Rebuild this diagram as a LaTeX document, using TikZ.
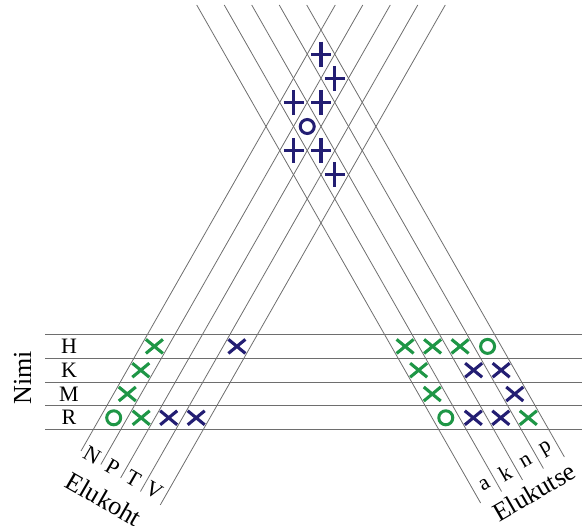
\documentclass[tikz,border=0pt]{standalone}
\usepackage{fontspec}
\setmainfont{Liberation Serif}
\definecolor{mgreen}{RGB}{30,150,70}
\definecolor{mblue}{RGB}{35,30,115}
\definecolor{gridgray}{RGB}{110,110,110}
\begin{document}
\begin{tikzpicture}[x=1pt,y=-1pt,
  gridline/.style={draw=gridgray, line width=0.8pt},
  hdr/.style={font=\fontsize{26}{30}\selectfont, inner sep=0pt},
  lbl/.style={font=\fontsize{22}{26}\selectfont, inner sep=0pt},
  xmark/.pic={\draw[line width=3.1pt] (-8.5,-7)--(8.5,7) (-8.5,7)--(8.5,-7);},
  pmark/.pic={\draw[line width=3.1pt] (0,-12.5)--(0,12.5) (-10,0)--(10,0);},
  omark/.pic={\draw[line width=3pt] (0,0) circle[radius=7];},
]
\useasboundingbox (0,0) rectangle (582,526);
% horizontal band
\foreach \i in {0,...,4}{
  \pgfmathsetmacro\yy{334.5+23.8*\i}
  \draw[gridline] (45,\yy) -- (582,\yy);
}
% left band (/)
\foreach \j in {0,...,4}{
  \pgfmathsetmacro\yb{451+13.5*\j}
  \pgfmathsetmacro\xb{93+27.5*\j+(430-\yb)*0.57}
  \pgfmathsetmacro\xt{93+27.5*\j+425*0.57}
  \draw[gridline] (\xb,\yb) -- (\xt,5);
}
% right band (\)
\foreach \j in {0,...,4}{
  \pgfmathsetmacro\yb{503-11.5*\j}
  \pgfmathsetmacro\xb{439+27.5*\j+(\yb-430)*0.57}
  \pgfmathsetmacro\xt{439+27.5*\j-425*0.57}
  \draw[gridline] (\xb,\yb) -- (\xt,5);
}
% labels
\node[hdr, rotate=90] (nimi) at (22.5,378) {Nimi};
\node[lbl] (rH) at (69,346.4) {H};
\node[lbl] (rK) at (69,370.2) {K};
\node[lbl] (rM) at (69,394) {M};
\node[lbl] (rR) at (69,417.8) {R};
\node[lbl, rotate=-30] (cN) at (92,455) {N};
\node[lbl, rotate=-30] (cP) at (112.6,466.9) {P};
\node[lbl, rotate=-30] (cT) at (133.3,478.8) {T};
\node[lbl, rotate=-30] (cV) at (153.9,490.7) {V};
\node[hdr, rotate=-30] (elukoht) at (104,499) {Elukoht};
\node[lbl, rotate=30] (ca) at (484.5,485) {a};
\node[lbl, rotate=30] (ck) at (505.1,473.1) {k};
\node[lbl, rotate=30] (cn) at (525.7,461.2) {n};
\node[lbl, rotate=30] (cp) at (546.3,449.3) {p};
\node[hdr, rotate=30] (elukutse) at (534,492) {Elukutse};
% green crosses
\foreach \p in {(154.4,346.4),(140.8,370.2),(127.3,394),(141.2,417.8),
  (405.1,346.4),(432.6,346.4),(460.1,346.4),(418.65,370.2),(432.25,394),(528.3,417.8)}
  \pic[color=mgreen] at \p {xmark};
% blue crosses
\foreach \p in {(236.9,346.4),(168.7,417.8),(196.2,417.8),(473.65,370.2),
  (501.15,370.2),(514.75,394),(473.3,417.8),(500.8,417.8)}
  \pic[color=mblue] at \p {xmark};
% green circles
\foreach \p in {(113.7,417.8),(487.6,346.4),(445.8,417.8)}
  \pic[color=mgreen] at \p {omark};
% blue plus marks
\foreach \p in {(321,54.1),(334.75,78.3),(293.5,102.4),(321,102.4),
  (293.5,150.6),(321,150.6),(334.75,174.7)}
  \pic[color=mblue] at \p {pmark};
\pic[color=mblue] at (307.25,126.5) {omark};
\end{tikzpicture}
\end{document}
